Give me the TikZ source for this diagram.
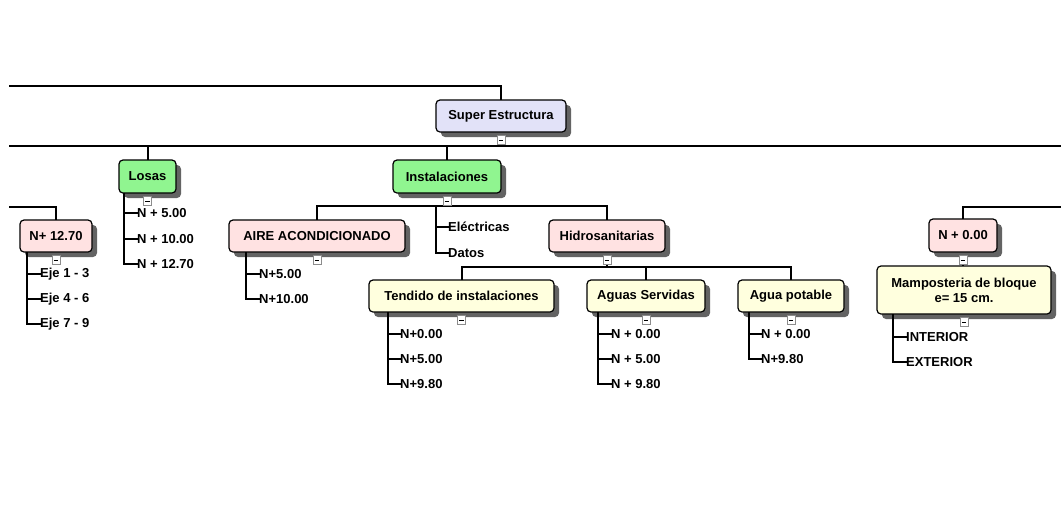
\documentclass[tikz,border=0pt]{standalone}
\usepackage{fontspec}
\setmainfont{Liberation Sans}
\usetikzlibrary{shadows}
\definecolor{lav}{HTML}{E2E2F8}
\definecolor{grn}{HTML}{90F590}
\definecolor{pnk}{HTML}{FFE2E2}
\definecolor{yel}{HTML}{FFFFDE}
\definecolor{shd}{HTML}{636363}
\tikzset{
  box/.style={draw=black, line width=1.2pt, rounded corners=4pt, inner sep=0pt,
    minimum height=32pt, font=\fontsize{13}{15}\selectfont\bfseries, align=center,
    general shadow={fill=shd, shadow xshift=5pt, shadow yshift=-5pt}},
  leaf/.style={inner sep=0pt, anchor=west, font=\fontsize{13}{15}\selectfont\bfseries},
  conn/.style={line width=2pt, line cap=rect},
  cbox/.style={draw=black!45, fill=white, line width=0.6pt, minimum width=8pt, minimum height=9pt, inner sep=0pt,
    path picture={\draw[black, line width=1pt] ([xshift=1.8pt]path picture bounding box.west) -- ([xshift=-1.8pt]path picture bounding box.east);}}
}
\begin{document}
\begin{tikzpicture}[x=1pt,y=-1pt]
\useasboundingbox (0,0) rectangle (1061,507);
% free ends
\coordinate (tl) at (10,86);
\coordinate (la) at (10,146);
\coordinate (lb) at (1061,146);
\coordinate (ll) at (10,207);
\coordinate (lr) at (1061,207);
\coordinate (ib) at (447,206);
\coordinate (hb) at (607,267);

% connectors first (behind boxes)
\draw[conn] (tl) -| (501,100);
\draw[conn] (la) -- (lb);
\draw[conn] (501,132) -- (501,146);
\draw[conn] (147.5,146) -- (147.5,160);
\draw[conn] (447,146) -- (447,160);
\draw[conn] (ll) -| (56,220);
\draw[conn] (lr) -| (963,219);
\draw[conn] (447,193) -- (ib);
\draw[conn] (317,220) |- (607,206) -- (607,220);
\draw[conn] (607,252) -- (hb);
\draw[conn] (461.5,280) |- (791,267) -- (791,280);
\draw[conn] (646,267) -- (646,280);
\draw[conn] (963,252) -- (963,266);

% boxes
\node[box, fill=lav, minimum width=130pt] (super) at (501,116) {Super Estructura};
\node[box, fill=grn, minimum width=57pt, minimum height=33pt] (losas) at (147.5,176.5) {Losas};
\node[box, fill=grn, minimum width=108pt, minimum height=33pt] (inst) at (447,176.5) {Instalaciones};
\node[box, fill=pnk, minimum width=72pt] (n1270) at (56,236) {N+ 12.70};
\node[box, fill=pnk, minimum width=176pt] (aire) at (317,236) {AIRE ACONDICIONADO};
\node[box, fill=pnk, minimum width=116pt] (hidro) at (607,236) {Hidrosanitarias};
\node[box, fill=yel, minimum width=185pt] (tend) at (461.5,296) {Tendido de instalaciones};
\node[box, fill=yel, minimum width=118pt] (aguas) at (646,296) {Aguas Servidas};
\node[box, fill=yel, minimum width=106pt] (agua) at (791,296) {Agua potable};
\node[box, fill=pnk, minimum width=68pt, minimum height=33pt] (n000) at (963,235.5) {N + 0.00};
\node[box, fill=yel, minimum width=174pt, minimum height=48pt] (mamp) at (964,290) {Mamposteria de bloque\\e= 15 cm.};

% leaves
\node[leaf] (lo1) at (137,213) {N + 5.00};
\node[leaf] (lo2) at (137,239) {N + 10.00};
\node[leaf] (lo3) at (137,264) {N + 12.70};
\node[leaf] (e1) at (40,274) {Eje 1 - 3};
\node[leaf] (e2) at (40,299) {Eje 4 - 6};
\node[leaf] (e3) at (40,324) {Eje 7 - 9};
\node[leaf] (a1) at (259,274) {N+5.00};
\node[leaf] (a2) at (259,299) {N+10.00};
\node[leaf] (el) at (448,227) {Eléctricas};
\node[leaf] (da) at (448,253) {Datos};
\node[leaf] (t1) at (400,334) {N+0.00};
\node[leaf] (t2) at (400,359) {N+5.00};
\node[leaf] (t3) at (400,384) {N+9.80};
\node[leaf] (s1) at (611,334) {N + 0.00};
\node[leaf] (s2) at (611,359) {N + 5.00};
\node[leaf] (s3) at (611,384) {N + 9.80};
\node[leaf] (p1) at (761,334) {N + 0.00};
\node[leaf] (p2) at (761,359) {N+9.80};
\node[leaf] (m1) at (906,337) {INTERIOR};
\node[leaf] (m2) at (906,362) {EXTERIOR};

% leaf connectors
\draw[conn] ([xshift=-13pt]lo1.west |- losas.south) |- (lo3.west);
\foreach \n in {lo1,lo2} \draw[conn] ([xshift=-13pt]\n.west) -- (\n.west);
\draw[conn] ([xshift=-13pt]e1.west |- n1270.south) |- (e3.west);
\foreach \n in {e1,e2} \draw[conn] ([xshift=-13pt]\n.west) -- (\n.west);
\draw[conn] ([xshift=-13pt]a1.west |- aire.south) |- (a2.west);
\draw[conn] ([xshift=-13pt]a1.west) -- (a1.west);
\draw[conn] ([xshift=-12pt]el.west |- ib) |- (da.west);
\draw[conn] ([xshift=-12pt]el.west) -- (el.west);
\draw[conn] ([xshift=-12pt]t1.west |- tend.south) |- (t3.west);
\foreach \n in {t1,t2} \draw[conn] ([xshift=-12pt]\n.west) -- (\n.west);
\draw[conn] ([xshift=-13pt]s1.west |- aguas.south) |- (s3.west);
\foreach \n in {s1,s2} \draw[conn] ([xshift=-13pt]\n.west) -- (\n.west);
\draw[conn] ([xshift=-12pt]p1.west |- agua.south) |- (p2.west);
\draw[conn] ([xshift=-12pt]p1.west) -- (p1.west);
\draw[conn] ([xshift=-13pt]m1.west |- mamp.south) |- (m2.west);
\draw[conn] ([xshift=-13pt]m1.west) -- (m1.west);

% collapse markers
\foreach \b in {super,losas,inst,n1270,aire,hidro,tend,aguas,agua,n000,mamp}
  \node[cbox] (c\b) at ([yshift=-7.5pt]\b.south) {};
\end{tikzpicture}
\end{document}
